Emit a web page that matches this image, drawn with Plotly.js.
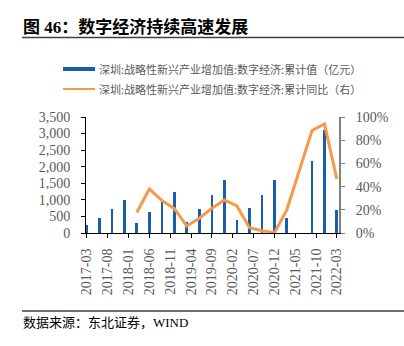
<!DOCTYPE html>
<html>
<head>
<meta charset="utf-8">
<script src="https://cdn.plot.ly/plotly-3.0.1.min.js"></script>
<style>html,body{margin:0;padding:0;background:#fff;}#chart{width:404px;height:346px;}</style>
</head>
<body>
<div id="chart"></div>
<script>
// Data (quarterly cumulative values)
const dates = ['2017-03-01','2017-06-01','2017-09-01','2017-12-01','2018-03-01','2018-06-01','2018-09-01','2018-12-01','2019-03-01','2019-06-01','2019-09-01','2019-12-01','2020-03-01','2020-06-01','2020-09-01','2020-12-01','2021-03-01','2021-06-01','2021-09-01','2021-12-01','2022-03-01'];
const cumValue = [242,464,726,1008,302,635,950,1250,323,726,1150,1603,393,747,1150,1603,463,null,2187,3116,696];
const cumYoY = [null,null,null,null,17.6,38,28,21,6,12.7,21.3,28.5,23.3,4.5,2,0.3,20,null,88.4,94,46.7];
const tickDates = ['2017-03-01','2017-08-01','2018-01-01','2018-06-01','2018-11-01','2019-04-01','2019-09-01','2020-02-01','2020-07-01','2020-12-01','2021-05-01','2021-10-01','2022-03-01'];
const tickLabels = ['2017-03','2017-08','2018-01','2018-06','2018-11','2019-04','2019-09','2020-02','2020-07','2020-12','2021-05','2021-10','2022-03'];
const leftTicks = [0,500,1000,1500,2000,2500,3000,3500];
const leftLabels = ['0','500','1,000','1,500','2,000','2,500','3,000','3,500'];
const rightTicks = [0,20,40,60,80,100];
const rightLabels = ['0%','20%','40%','60%','80%','100%'];
const seriesNames = ['深圳:战略性新兴产业增加值:数字经济:累计值（亿元）','深圳:战略性新兴产业增加值:数字经济:累计同比（右）'];
const titleText = '图 46：数字经济持续高速发展';
const sourceText = '数据来源：东北证券，WIND';

const W = 404, H = 346;
const mL = 86, mR = 65, mT = 117, mB = 113;
const pw = W - mL - mR, ph = H - mT - mB;
const px = x => (x - mL) / pw;
const py = y => (H - mB - y) / ph;

const blue = '#1A5EAB';
const orange = '#F59A4B';
const gray = '#595959';
const serif = 'Liberation Serif, Times New Roman, serif';
const cjk = 'Noto Sans CJK SC, sans-serif';

const traces = [
  {type:'bar', x: dates, y: cumValue, name: seriesNames[0], marker:{color: blue, line:{width:0}}, width: 20*86400000, yaxis:'y', showlegend:false, hoverinfo:'skip'},
  {type:'scatter', mode:'lines', x: dates, y: cumYoY, name: seriesNames[1], line:{color: orange, width:3}, connectgaps:true, yaxis:'y2', showlegend:false, hoverinfo:'skip'}
];

const layout = {
  width: W, height: H,
  margin: {l: mL, r: mR, t: mT, b: mB, pad: 0},
  paper_bgcolor: '#fff', plot_bgcolor: '#fff',
  showlegend: false,
  bargap: 0,
  title: {text: '<b>' + titleText + '</b>', x: 23/W, xref:'container', xanchor:'left', y: 1 - 27/H, yref:'container', yanchor:'middle', font:{family: 'Liberation Serif, Noto Sans CJK SC, serif', size: 17, color:'#000'}},
  xaxis: {
    type:'date', range:['2017-02-23','2022-03-17'],
    tickmode:'array', tickvals: tickDates, ticktext: tickLabels,
    tickangle: -90, tickfont:{family: serif, size: 14, color: gray},
    ticks:'outside', ticklen:4, tickcolor:'#000', tickwidth:1,
    showline:true, linecolor:'#000', linewidth:1,
    showgrid:false, zeroline:false, ticklabelstandoff: 5
  },
  yaxis: {
    range:[0,3500], tickmode:'array', tickvals: leftTicks, ticktext: leftLabels,
    tickfont:{family: serif, size: 14, color: gray},
    ticks:'outside', ticklen:4, tickcolor:'#000', tickwidth:1,
    showline:true, linecolor:'#000', linewidth:1,
    showgrid:false, zeroline:false, ticklabelstandoff: 8
  },
  yaxis2: {
    overlaying:'y', side:'right', range:[0,100], tickmode:'array', tickvals: rightTicks, ticktext: rightLabels,
    tickfont:{family: serif, size: 14, color: gray},
    ticks:'outside', ticklen:4, tickcolor:'#7F7F7F', tickwidth:1,
    showline:true, linecolor:'#7F7F7F', linewidth:2,
    showgrid:false, zeroline:false, ticklabelstandoff: 8
  },
  shapes: [
    {type:'line', xref:'paper', yref:'paper', x0: px(22), x1: px(404), y0: py(37.5), y1: py(37.5), line:{color:'#404040', width:1.5}},
    {type:'line', xref:'paper', yref:'paper', x0: px(22), x1: px(404), y0: py(311), y1: py(311), line:{color:'#404040', width:1.5}},
    {type:'line', xref:'paper', yref:'paper', x0: px(63), x1: px(95), y0: py(69), y1: py(69), line:{color: blue, width:4}},
    {type:'line', xref:'paper', yref:'paper', x0: px(63), x1: px(95), y0: py(89), y1: py(89), line:{color: orange, width:2}}
  ],
  annotations: [
    {xref:'paper', yref:'paper', x: px(97), y: py(69), xanchor:'left', yanchor:'middle', showarrow:false, text: seriesNames[0], font:{family: cjk, size: 11, color: gray}},
    {xref:'paper', yref:'paper', x: px(97), y: py(89), xanchor:'left', yanchor:'middle', showarrow:false, text: seriesNames[1], font:{family: cjk, size: 11, color: gray}},
    {xref:'paper', yref:'paper', x: px(21), y: py(322), xanchor:'left', yanchor:'middle', showarrow:false, text: sourceText, font:{family: 'Liberation Serif, Noto Sans CJK SC, serif', size: 13, color:'#000'}}
  ]
};

Plotly.newPlot('chart', traces, layout, {staticPlot:true, displayModeBar:false});
</script>
</body>
</html>
